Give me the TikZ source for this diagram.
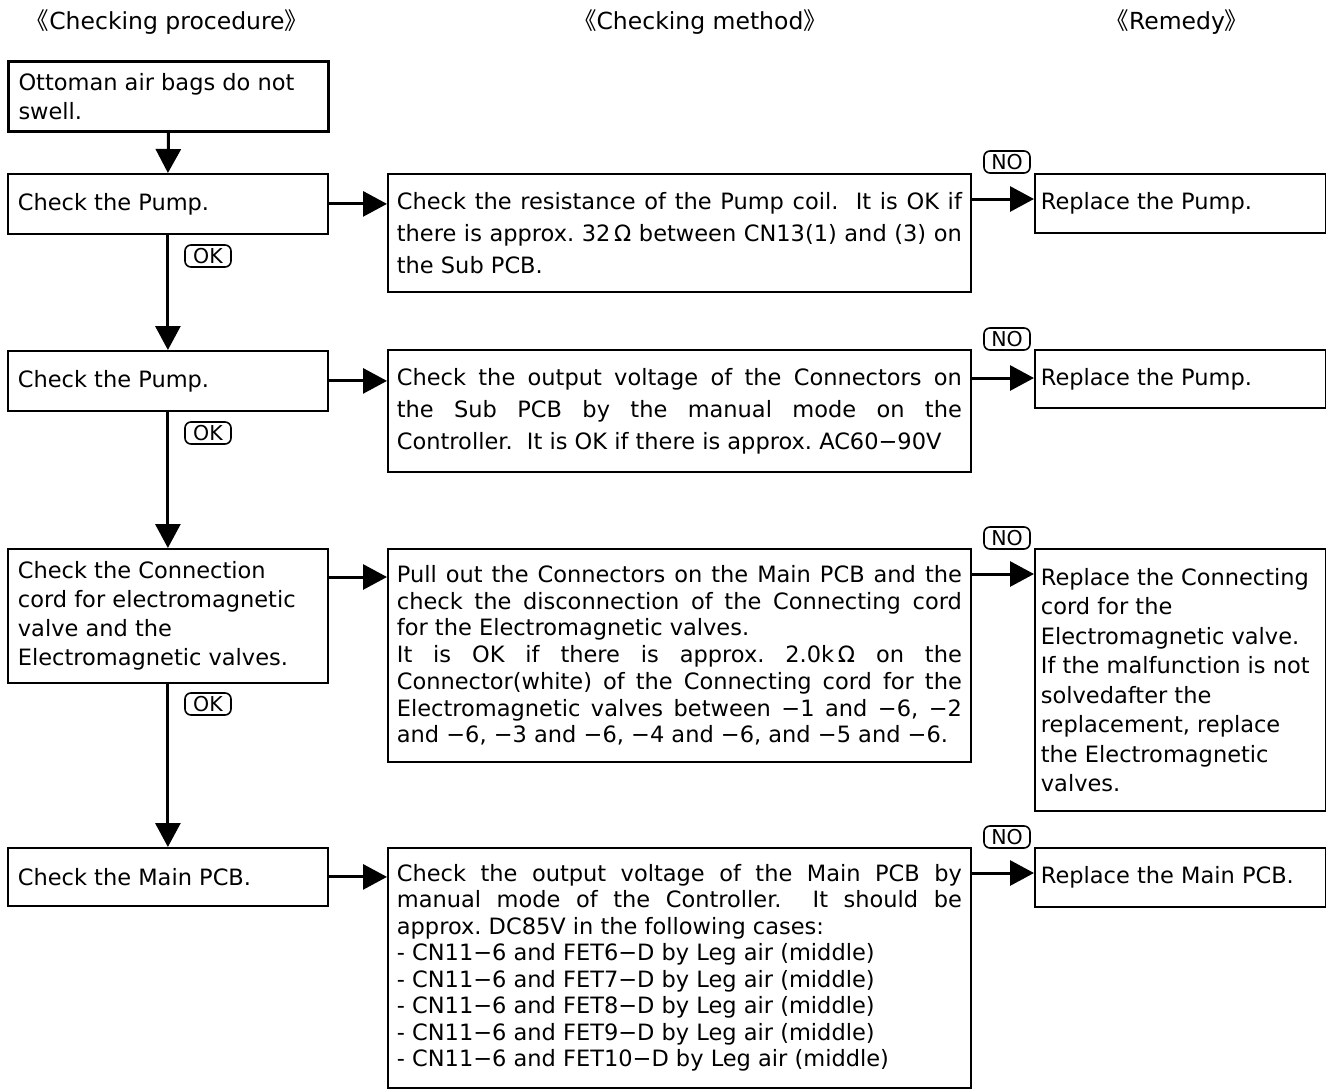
\documentclass[tikz,border=0pt]{standalone}
\usepackage{fontspec}
\setmainfont{DejaVu Sans}
\newfontfamily\cjk{Noto Sans CJK JP}
\usetikzlibrary{arrows.meta}
\newcommand\boxtext[3]{\parbox{#1}{\fontsize{22.5pt}{#2}\selectfont\frenchspacing\tolerance=10000\hbadness=10000\hfuzz=5pt\hyphenpenalty=10000\exhyphenpenalty=10000 #3}}
\newcommand\rtext[3]{\boxtext{#1}{#2}{\raggedright #3}}
\begin{document}
\begin{tikzpicture}[x=1pt,y=-1pt,
  box/.style={draw, line width=1.8pt, inner sep=0pt, anchor=north west},
  arr/.style={line width=3pt, -{Triangle[length=24pt,width=25pt]}},
  tag/.style={draw, rounded corners=6pt, line width=1.6pt, inner sep=0pt,
    minimum width=46pt, minimum height=22pt, font=\fontsize{20.5pt}{20.5pt}\selectfont},
  head/.style={inner sep=0pt, font=\fontsize{23.5pt}{23.5pt}\selectfont}]
\useasboundingbox (0,0) rectangle (1326,1088);

% headings
\node[head] (h1) at (167,22) {{\cjk 《}Checking procedure{\cjk 》}};
\node[head] (h2) at (700,22) {{\cjk 《}Checking method{\cjk 》}};
\node[head] (h3) at (1177,22) {{\cjk 《}Remedy{\cjk 》}};

% left column
\node[box, line width=3pt, minimum width=320pt, minimum height=70pt] (L0) at (7,60)
  {\rtext{300pt}{29pt}{Ottoman air bags do not\\swell.}};
\node[box, minimum width=320pt, minimum height=60pt] (L1) at (7,173)
  {\rtext{300pt}{29pt}{Check the Pump.}};
\node[box, minimum width=320pt, minimum height=60pt] (L2) at (7,350)
  {\rtext{300pt}{29pt}{Check the Pump.}};
\node[box, minimum width=320pt, minimum height=134pt] (L3) at (7,548)
  {\rtext{300pt}{29pt}{Check the Connection\\cord for electromagnetic\\valve and the\\Electromagnetic valves.}};
\node[box, minimum width=320pt, minimum height=58pt] (L4) at (7,847)
  {\rtext{300pt}{29pt}{Check the Main PCB.}};

% middle column
\node[box, minimum width=583pt, minimum height=118pt] (M1) at (387,173)
  {\boxtext{565pt}{32pt}{Check the resistance of the Pump coil.\ \ It is OK if\linebreak
   there is approx. 32\,Ω\ between CN13(1) and (3) on\linebreak
   the Sub PCB.}};
\node[box, minimum width=583pt, minimum height=122pt] (M2) at (387,349)
  {\boxtext{565pt}{32pt}{Check the output voltage of the Connectors on\linebreak
   the Sub PCB by the manual mode on the\linebreak
   Controller.\ \ It is OK if there is approx. AC60−90V}};
\node[box, minimum width=583pt, minimum height=213pt] (M3) at (387,548)
  {\boxtext{565pt}{26.7pt}{Pull out the Connectors on the Main PCB and the\linebreak
   check the disconnection of the Connecting cord\linebreak
   for the Electromagnetic valves.\\
   It is OK if there is approx. 2.0k\,Ω\ on the\linebreak
   Connector(white) of the Connecting cord for the\linebreak
   Electromagnetic valves between −1 and −6, −2\linebreak
   and −6, −3 and −6, −4 and −6, and −5 and −6.}};
\node[box, minimum width=583pt, minimum height=240pt] (M4) at (387,847)
  {\boxtext{565pt}{26.5pt}{Check the output voltage of the Main PCB by\linebreak
   manual mode of the Controller.\ \ It should be\linebreak
   approx. DC85V in the following cases:\\
   - CN11−6 and FET6−D by Leg air (middle)\\
   - CN11−6 and FET7−D by Leg air (middle)\\
   - CN11−6 and FET8−D by Leg air (middle)\\
   - CN11−6 and FET9−D by Leg air (middle)\\
   - CN11−6 and FET10−D by Leg air (middle)}};

% right column
\node[box, minimum width=291pt, minimum height=59pt] (R1) at (1034,173)
  {\rtext{279pt}{29pt}{Replace the Pump.}};
\node[box, minimum width=291pt, minimum height=58pt] (R2) at (1034,349)
  {\rtext{279pt}{29pt}{Replace the Pump.}};
\node[box, minimum width=291pt, minimum height=262pt] (R3) at (1034,548)
  {\rtext{279pt}{29.5pt}{Replace the Connecting\\cord for the\\Electromagnetic valve.\\If the malfunction is not\\solvedafter the\\replacement, replace\\the Electromagnetic\\valves.}};
\node[box, minimum width=291pt, minimum height=59pt] (R4) at (1034,847)
  {\rtext{279pt}{29pt}{Replace the Main PCB.}};

% vertical connectors
\draw[arr] (L0.south) -- (L1.north);
\draw[arr] (L1.south) -- (L2.north);
\draw[arr] (L2.south) -- (L3.north);
\draw[arr] (L3.south) -- (L4.north);

% left -> middle
\draw[arr] (L1.east) -- (L1.east -| M1.west);
\draw[arr] (L2.east) -- (L2.east -| M2.west);
\coordinate (a3) at ([yshift=-29pt]L3.north east);
\draw[arr] (a3) -- (a3 -| M3.west);
\draw[arr] (L4.east) -- (L4.east -| M4.west);

% middle -> right
\coordinate (b1) at ([yshift=-26pt]M1.north east);
\coordinate (b2) at ([yshift=-29pt]M2.north east);
\coordinate (b3) at ([yshift=-26pt]M3.north east);
\coordinate (b4) at ([yshift=-26pt]M4.north east);
\draw[arr] (b1) -- (b1 -| R1.west);
\draw[arr] (b2) -- (b2 -| R2.west);
\draw[arr] (b3) -- (b3 -| R3.west);
\draw[arr] (b4) -- (b4 -| R4.west);

% tags
\node[tag] (ok1) at (208,256) {OK};
\node[tag] (ok2) at (208,433) {OK};
\node[tag] (ok3) at (208,704) {OK};
\node[tag] (no1) at (1007,162) {NO};
\node[tag] (no2) at (1007,339) {NO};
\node[tag] (no3) at (1007,538) {NO};
\node[tag] (no4) at (1007,837) {NO};
\end{tikzpicture}
\end{document}
